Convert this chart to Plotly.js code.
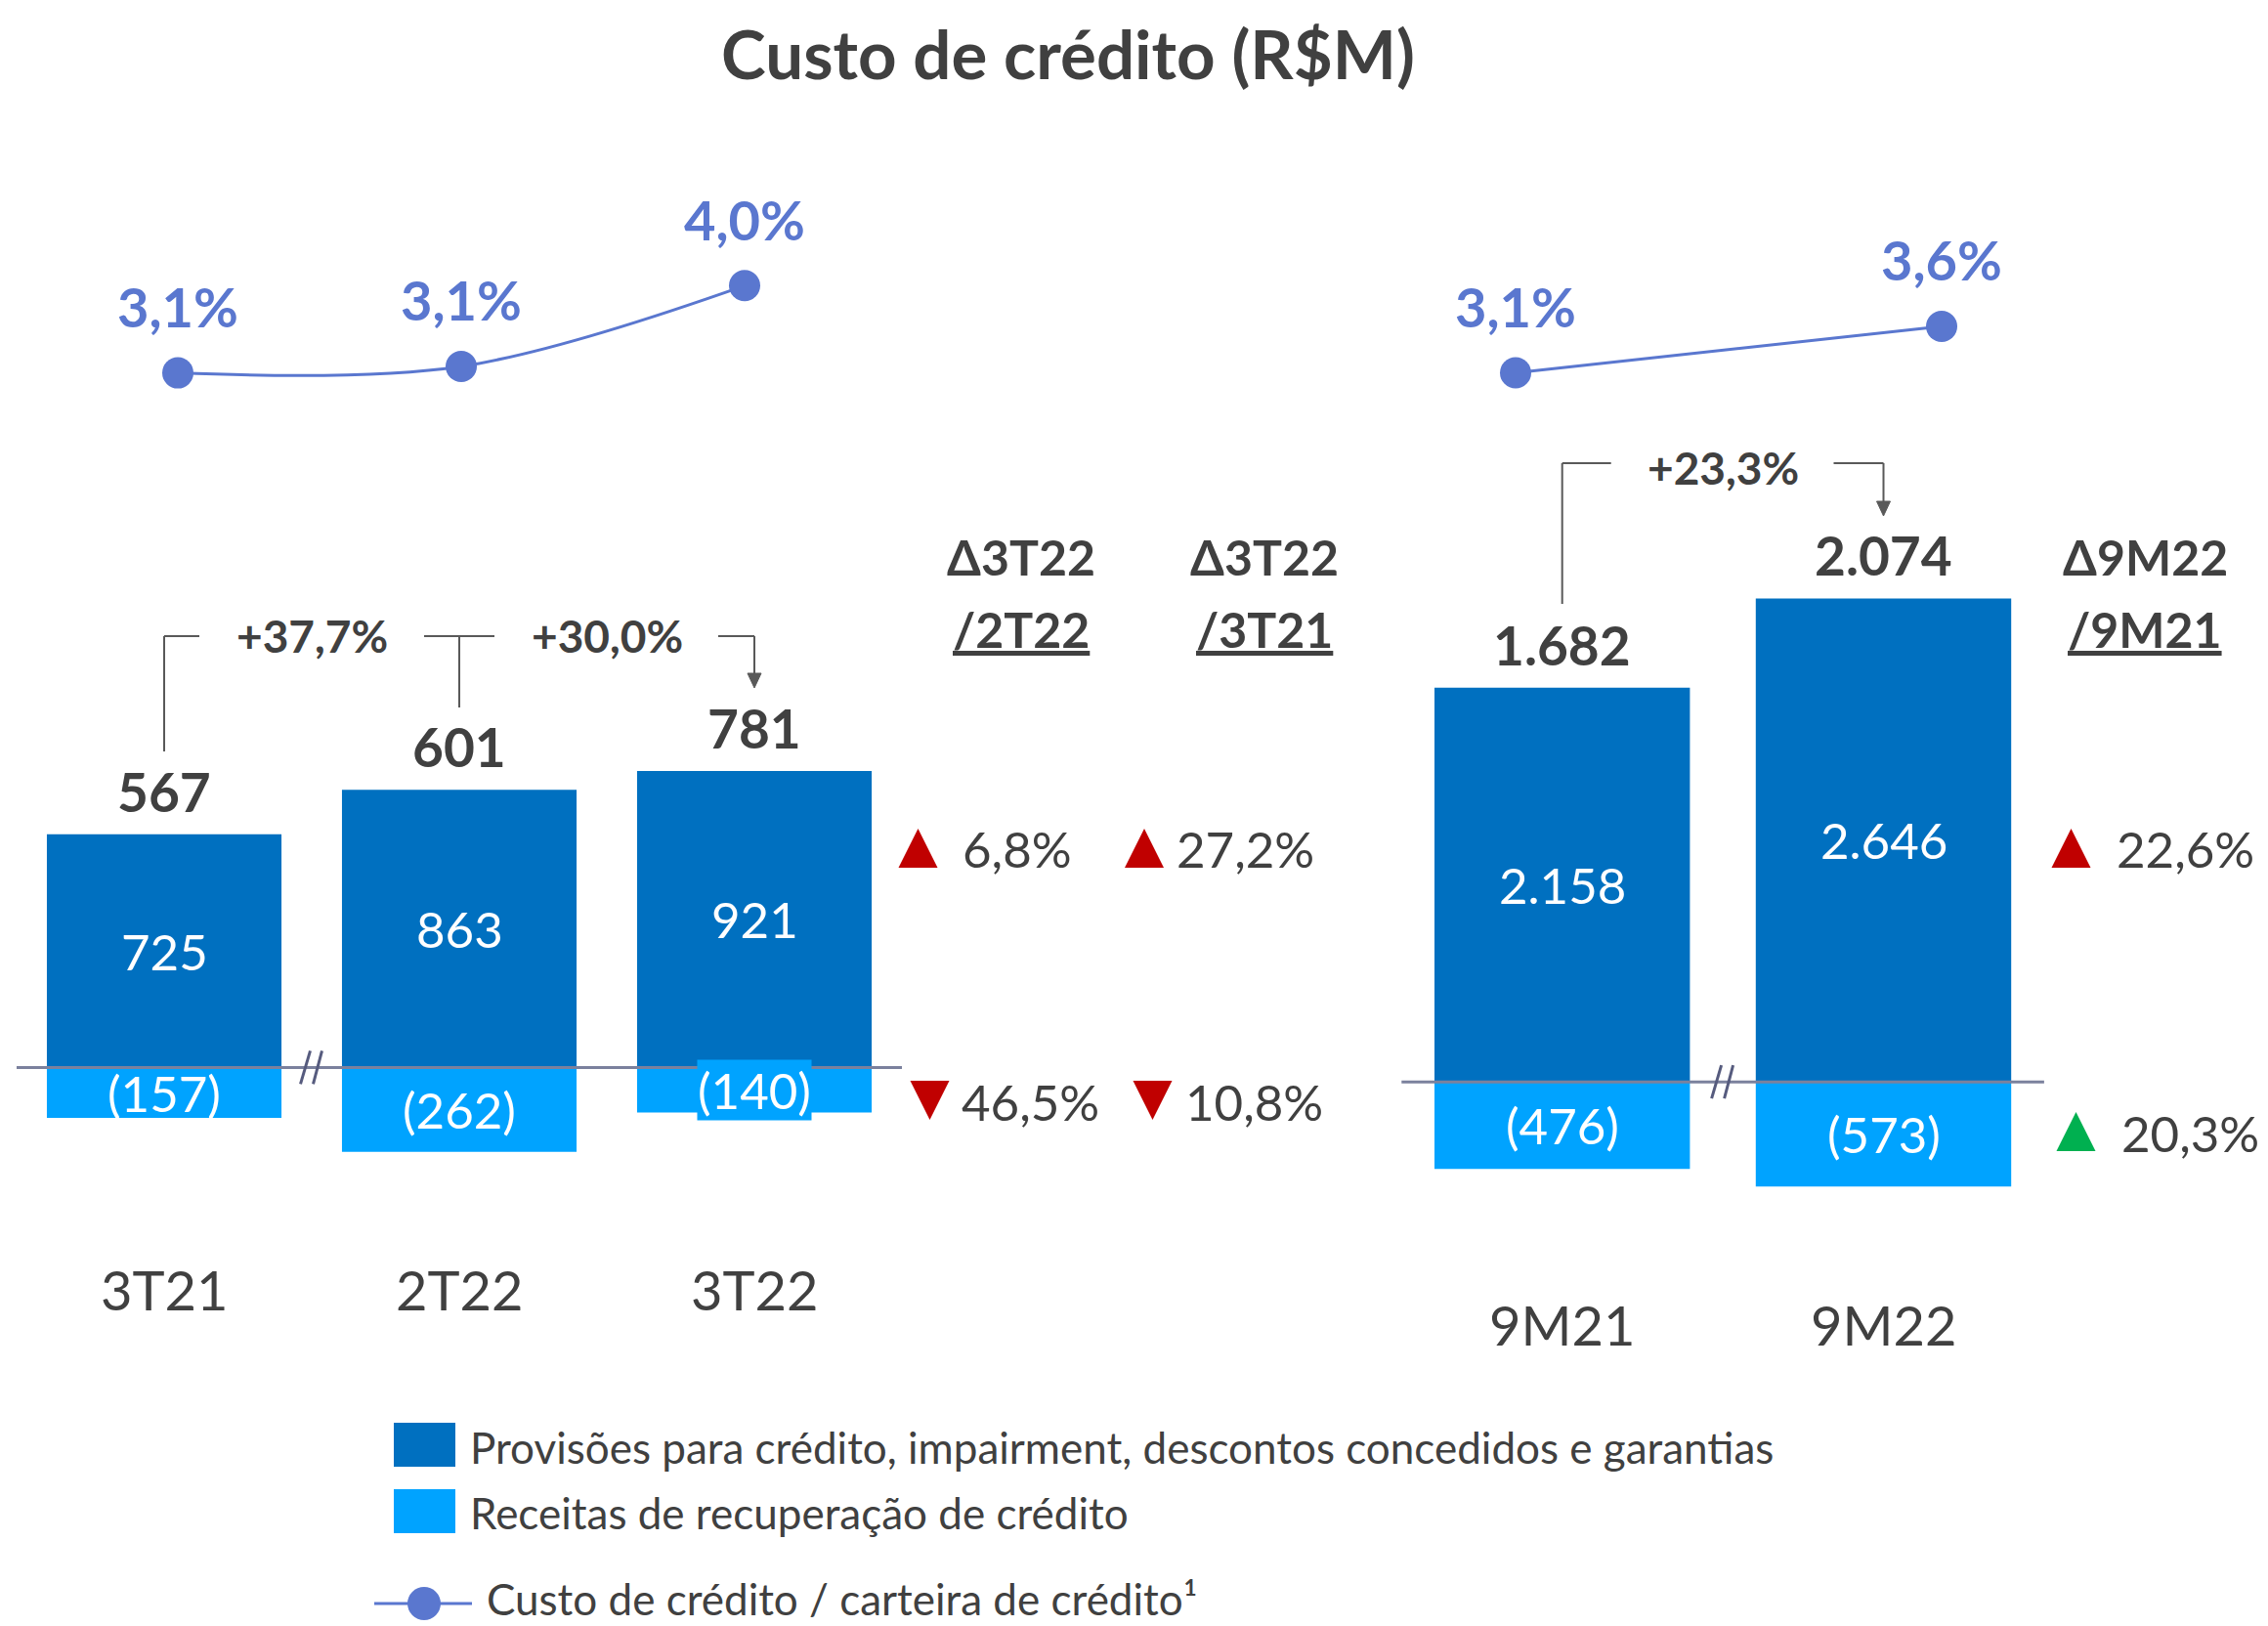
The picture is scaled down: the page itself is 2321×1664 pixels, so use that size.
<!DOCTYPE html>
<html><head><meta charset="utf-8">
<script src="https://cdn.plot.ly/plotly-3.0.1.min.js"></script>
<style>html,body{margin:0;padding:0;background:#fff;}</style>
</head><body>
<div id="chart" style="width:2321px;height:1664px;"></div>
<script>
// ---------------- DATA ----------------
const titleText = 'Custo de crédito (R$M)';
const seriesNames = [
  'Provisões para crédito, impairment, descontos concedidos e garantias',
  'Receitas de recuperação de crédito',
  'Custo de crédito / carteira de crédito¹'
];
const quarters = ['3T21', '2T22', '3T22'];
const provQ = [725, 863, 921];
const recQ = [-157, -262, -140];
const netQ = [567, 601, 781];
const ratioQ = [3.06, 3.13, 4.0];
const growthQ = [37.7, 30.0];

const periods = ['9M21', '9M22'];
const provA = [2158, 2646];
const recA = [-476, -573];
const netA = [1682, 2074];
const ratioA = [3.1, 3.6];
const growthA = [23.3];

const deltaHeads = [['Δ3T22', '/2T22'], ['Δ3T22', '/3T21'], ['Δ9M22', '/9M21']];
const deltaProv = [6.8, 27.2, 22.6];
const deltaRec = [-46.5, -10.8, 20.3];

// ---------------- GEOMETRY / STYLE ----------------
const W = 2321, H = 1664;
const px = x => x / W, py = y => 1 - y / H;
const FONT = 'Lato, "Open Sans", sans-serif';
const TXT = '#404040', DARK = '#0070C0', LIGHT = '#00A3FF', LINEC = '#5A77CF';
const RED = '#C00000', GREEN = '#00B050', BRK = '#595959', ZL = '#7B819D';
const kL = 0.3293, kR = 0.1870, kLine = 95;

function dom(a, b) { return [a / W, b / W]; }
function ydom(top, bot) { return [1 - bot / H, 1 - top / H]; }
function yRange(top, bot, v0, p0, k) { return [v0 - (bot - p0) / k, v0 + (p0 - top) / k]; }
function fmtInt(v) { return String(Math.abs(Math.round(v))).replace(/\B(?=(\d{3})+(?!\d))/g, '.'); }
function fmtDec(v) { return Math.abs(v).toFixed(1).replace('.', ','); }
function f(size, color, weight) { return {family: FONT, size: size, color: color || TXT, weight: weight || 400}; }

const hidden = {showgrid: false, zeroline: false, showticklabels: false, showline: false, ticks: '', fixedrange: true};

// ---------------- TRACES ----------------
const traces = [
  {type: 'bar', x: quarters, y: provQ, xaxis: 'x', yaxis: 'y', name: seriesNames[0], marker: {color: DARK, line: {width: 0}}, showlegend: false},
  {type: 'bar', x: quarters, y: recQ, xaxis: 'x', yaxis: 'y', name: seriesNames[1], marker: {color: LIGHT, line: {width: 0}}, showlegend: false},
  {type: 'bar', x: periods, y: provA, xaxis: 'x2', yaxis: 'y2', name: seriesNames[0], marker: {color: DARK, line: {width: 0}}, showlegend: false},
  {type: 'bar', x: periods, y: recA, xaxis: 'x2', yaxis: 'y2', name: seriesNames[1], marker: {color: LIGHT, line: {width: 0}}, showlegend: false},
  {type: 'scatter', mode: 'lines+markers', x: quarters, y: ratioQ, xaxis: 'x3', yaxis: 'y3', name: seriesNames[2],
   line: {color: LINEC, width: 3, shape: 'spline', smoothing: 1}, marker: {size: 32, color: LINEC}, cliponaxis: false, showlegend: false},
  {type: 'scatter', mode: 'lines+markers', x: periods, y: ratioA, xaxis: 'x4', yaxis: 'y4', name: seriesNames[2],
   line: {color: LINEC, width: 3}, marker: {size: 32, color: LINEC}, cliponaxis: false, showlegend: false}
];

// ---------------- ANNOTATIONS ----------------
const ann = [];
function addBarLabels(cats, prov, rec, net, xr, yr, k, catY) {
  cats.forEach((c, i) => {
    ann.push({xref: xr, yref: yr, x: i, y: prov[i], yshift: 44, xanchor: 'center', yanchor: 'middle', text: fmtInt(net[i]), showarrow: false, font: f(55, TXT, 700)});
    ann.push({xref: xr, yref: yr, x: i, y: prov[i] / 2, xanchor: 'center', yanchor: 'middle', text: fmtInt(prov[i]), showarrow: false, font: f(51, '#FFFFFF')});
    const small = Math.abs(rec[i]) * k < 48;
    ann.push({xref: xr, yref: yr, x: i, y: rec[i] / 2, xanchor: 'center', yanchor: 'middle', text: '(' + fmtInt(rec[i]) + ')', showarrow: false,
      font: f(51, '#FFFFFF'), bgcolor: small ? LIGHT : 'rgba(0,0,0,0)', borderpad: 0});
    ann.push({xref: xr, yref: 'paper', x: i, y: py(catY), xanchor: 'center', yanchor: 'middle', text: c, showarrow: false, font: f(56, TXT)});
  });
}
addBarLabels(quarters, provQ, recQ, netQ, 'x', 'y', kL, 1319);
addBarLabels(periods, provA, recA, netA, 'x2', 'y2', kR, 1355);

ratioQ.forEach((v, i) => ann.push({xref: 'x3', yref: 'y3', x: i, y: v, yshift: 68, xanchor: 'center', yanchor: 'middle', text: fmtDec(v) + '%', showarrow: false, font: f(56, LINEC, 700)}));
ratioA.forEach((v, i) => ann.push({xref: 'x4', yref: 'y4', x: i, y: v, yshift: 68, xanchor: 'center', yanchor: 'middle', text: fmtDec(v) + '%', showarrow: false, font: f(56, LINEC, 700)}));

growthQ.forEach((g, i) => ann.push({xref: 'x', yref: 'paper', x: i + 0.5, y: py(650), xanchor: 'center', yanchor: 'middle', text: '+' + fmtDec(g) + '%', showarrow: false, font: f(46, TXT, 700)}));
growthA.forEach((g, i) => ann.push({xref: 'x2', yref: 'paper', x: i + 0.5, y: py(478), xanchor: 'center', yanchor: 'middle', text: '+' + fmtDec(g) + '%', showarrow: false, font: f(46, TXT, 700)}));

const colX = [1045, 1294, 2195];
deltaHeads.forEach((h, i) => {
  ann.push({xref: 'paper', yref: 'paper', x: px(colX[i]), y: py(570), xanchor: 'center', yanchor: 'middle', text: h[0], showarrow: false, font: f(50, TXT, 700)});
  ann.push({xref: 'paper', yref: 'paper', x: px(colX[i]), y: py(644), xanchor: 'center', yanchor: 'middle', text: '<u>' + h[1] + '</u>', showarrow: false, font: f(50, TXT, 700)});
});

// ---------------- SHAPES ----------------
const shapes = [];
// zero lines
shapes.push({type: 'line', xref: 'x domain', yref: 'y', x0: 0, x1: 1, y0: 0, y1: 0, line: {color: ZL, width: 3}});
shapes.push({type: 'line', xref: 'x2 domain', yref: 'y2', x0: 0, x1: 1, y0: 0, y1: 0, line: {color: ZL, width: 3}});
// axis break marks
[['x', 'y'], ['x2', 'y2']].forEach(([xr, yr]) => {
  [[-1.5, -11.5], [10.5, 1.5]].forEach(([a, b]) => {
    shapes.push({type: 'line', xref: xr, yref: yr, xsizemode: 'pixel', ysizemode: 'pixel', xanchor: 0.5, yanchor: 0,
      x0: a, y0: 17, x1: b, y1: -17, line: {color: '#565B7E', width: 3}});
  });
});
// growth brackets
function seg(xr, anchor, x0, x1, y0, y1) {
  shapes.push({type: 'line', xref: xr, yref: 'paper', xsizemode: 'pixel', xanchor: anchor, x0: x0, x1: x1, y0: py(y0), y1: py(y1), line: {color: BRK, width: 2}});
}
function arrowHead(xr, anchor, tipY) {
  shapes.push({type: 'path', xref: xr, yref: 'paper', xsizemode: 'pixel', xanchor: anchor,
    path: `M -7,${py(tipY - 15)} L 7,${py(tipY - 15)} L 0,${py(tipY)} Z`, fillcolor: BRK, line: {color: BRK, width: 1}});
}
seg('x', 0, 0, 0, 769, 651); seg('x', 0, 0, 36, 651, 651);
seg('x', 1, -36, 36, 651, 651); seg('x', 1, 0, 0, 651, 724);
seg('x', 2, -37, 0, 651, 651); seg('x', 2, 0, 0, 651, 690); arrowHead('x', 2, 704);
seg('x2', 0, 0, 0, 618, 474); seg('x2', 0, 0, 50, 474, 474);
seg('x2', 1, -51, 0, 474, 474); seg('x2', 1, 0, 0, 474, 514); arrowHead('x2', 1, 528);

// variation triangles and percentages
const triX = [[939.5, 951.5], [1171, 1179.5], [2119.5, 2124.5]];
const pctX = [[983, 982], [1202, 1211], [2164, 2169]];
const rowY = [[868, 1126], [868, 1126], [868, 1158]];
function tri(cx, cy, up, color) {
  const w = 20, h = 20;
  const p = up
    ? `M ${px(cx - w)},${py(cy + h)} L ${px(cx + w)},${py(cy + h)} L ${px(cx)},${py(cy - h)} Z`
    : `M ${px(cx - w)},${py(cy - h)} L ${px(cx + w)},${py(cy - h)} L ${px(cx)},${py(cy + h)} Z`;
  shapes.push({type: 'path', xref: 'paper', yref: 'paper', path: p, fillcolor: color, line: {width: 0}});
}
[deltaProv, deltaRec].forEach((arr, r) => {
  arr.forEach((v, c) => {
    const up = v > 0;
    const bad = (r === 0) === up;
    tri(triX[c][r], rowY[c][r], up, bad ? RED : GREEN);
    ann.push({xref: 'paper', yref: 'paper', x: px(pctX[c][r]), y: py(rowY[c][r] + 1), xanchor: 'left', yanchor: 'middle',
      text: fmtDec(v) + '%', showarrow: false, font: f(51, TXT)});
  });
});

// custom legend
shapes.push({type: 'rect', xref: 'paper', yref: 'paper', x0: px(403), x1: px(466), y0: py(1456), y1: py(1501), fillcolor: DARK, line: {width: 0}});
shapes.push({type: 'rect', xref: 'paper', yref: 'paper', x0: px(403), x1: px(466), y0: py(1524), y1: py(1569), fillcolor: LIGHT, line: {width: 0}});
shapes.push({type: 'line', xref: 'paper', yref: 'paper', x0: px(383), x1: px(483), y0: py(1641), y1: py(1641), line: {color: LINEC, width: 3}});
shapes.push({type: 'circle', xref: 'paper', yref: 'paper', x0: px(417), x1: px(451), y0: py(1624), y1: py(1658), fillcolor: LINEC, line: {width: 0}});
[[480, 1481], [480, 1548], [497, 1636]].forEach(([x, y], i) => {
  ann.push({xref: 'paper', yref: 'paper', x: px(x), y: py(y), xanchor: 'left', yanchor: 'middle', text: seriesNames[i], showarrow: false, borderpad: 0, font: f(44, TXT)});
});

// ---------------- LAYOUT ----------------
const layout = {
  width: W, height: H,
  margin: {l: 0, r: 0, t: 0, b: 0, pad: 0},
  paper_bgcolor: '#FFFFFF', plot_bgcolor: 'rgba(0,0,0,0)',
  font: {family: FONT, color: TXT},
  title: {text: titleText, x: 1093 / W, y: 1 - 57 / H, xanchor: 'center', yanchor: 'middle', xref: 'container', yref: 'container', font: f(69, TXT, 700)},
  barmode: 'relative', bargap: 0.205,
  showlegend: false, hovermode: false,
  xaxis: Object.assign({}, hidden, {type: 'category', domain: dom(17, 923), range: [-0.5, 2.5], anchor: 'y'}),
  yaxis: Object.assign({}, hidden, {domain: ydom(500, 1260), range: yRange(500, 1260, 0, 1092.4, kL), anchor: 'x'}),
  xaxis2: Object.assign({}, hidden, {type: 'category', domain: dom(1434.3, 2091.9), range: [-0.5, 1.5], anchor: 'y2'}),
  yaxis2: Object.assign({}, hidden, {domain: ydom(450, 1260), range: yRange(450, 1260, 0, 1107.2, kR), anchor: 'x2'}),
  xaxis3: Object.assign({}, hidden, {type: 'category', domain: dom(37, 907), range: [-0.5, 2.5], anchor: 'y3'}),
  yaxis3: Object.assign({}, hidden, {domain: ydom(150, 470), range: yRange(150, 470, 4.0, 292.3, kLine), anchor: 'x3'}),
  xaxis4: Object.assign({}, hidden, {type: 'category', domain: dom(1333, 2205), range: [-0.5, 1.5], anchor: 'y4'}),
  yaxis4: Object.assign({}, hidden, {domain: ydom(150, 470), range: yRange(150, 470, 3.6, 334, kLine), anchor: 'x4'}),
  annotations: ann,
  shapes: shapes
};

Plotly.newPlot('chart', traces, layout, {staticPlot: true, displayModeBar: false});
</script>
</body></html>
